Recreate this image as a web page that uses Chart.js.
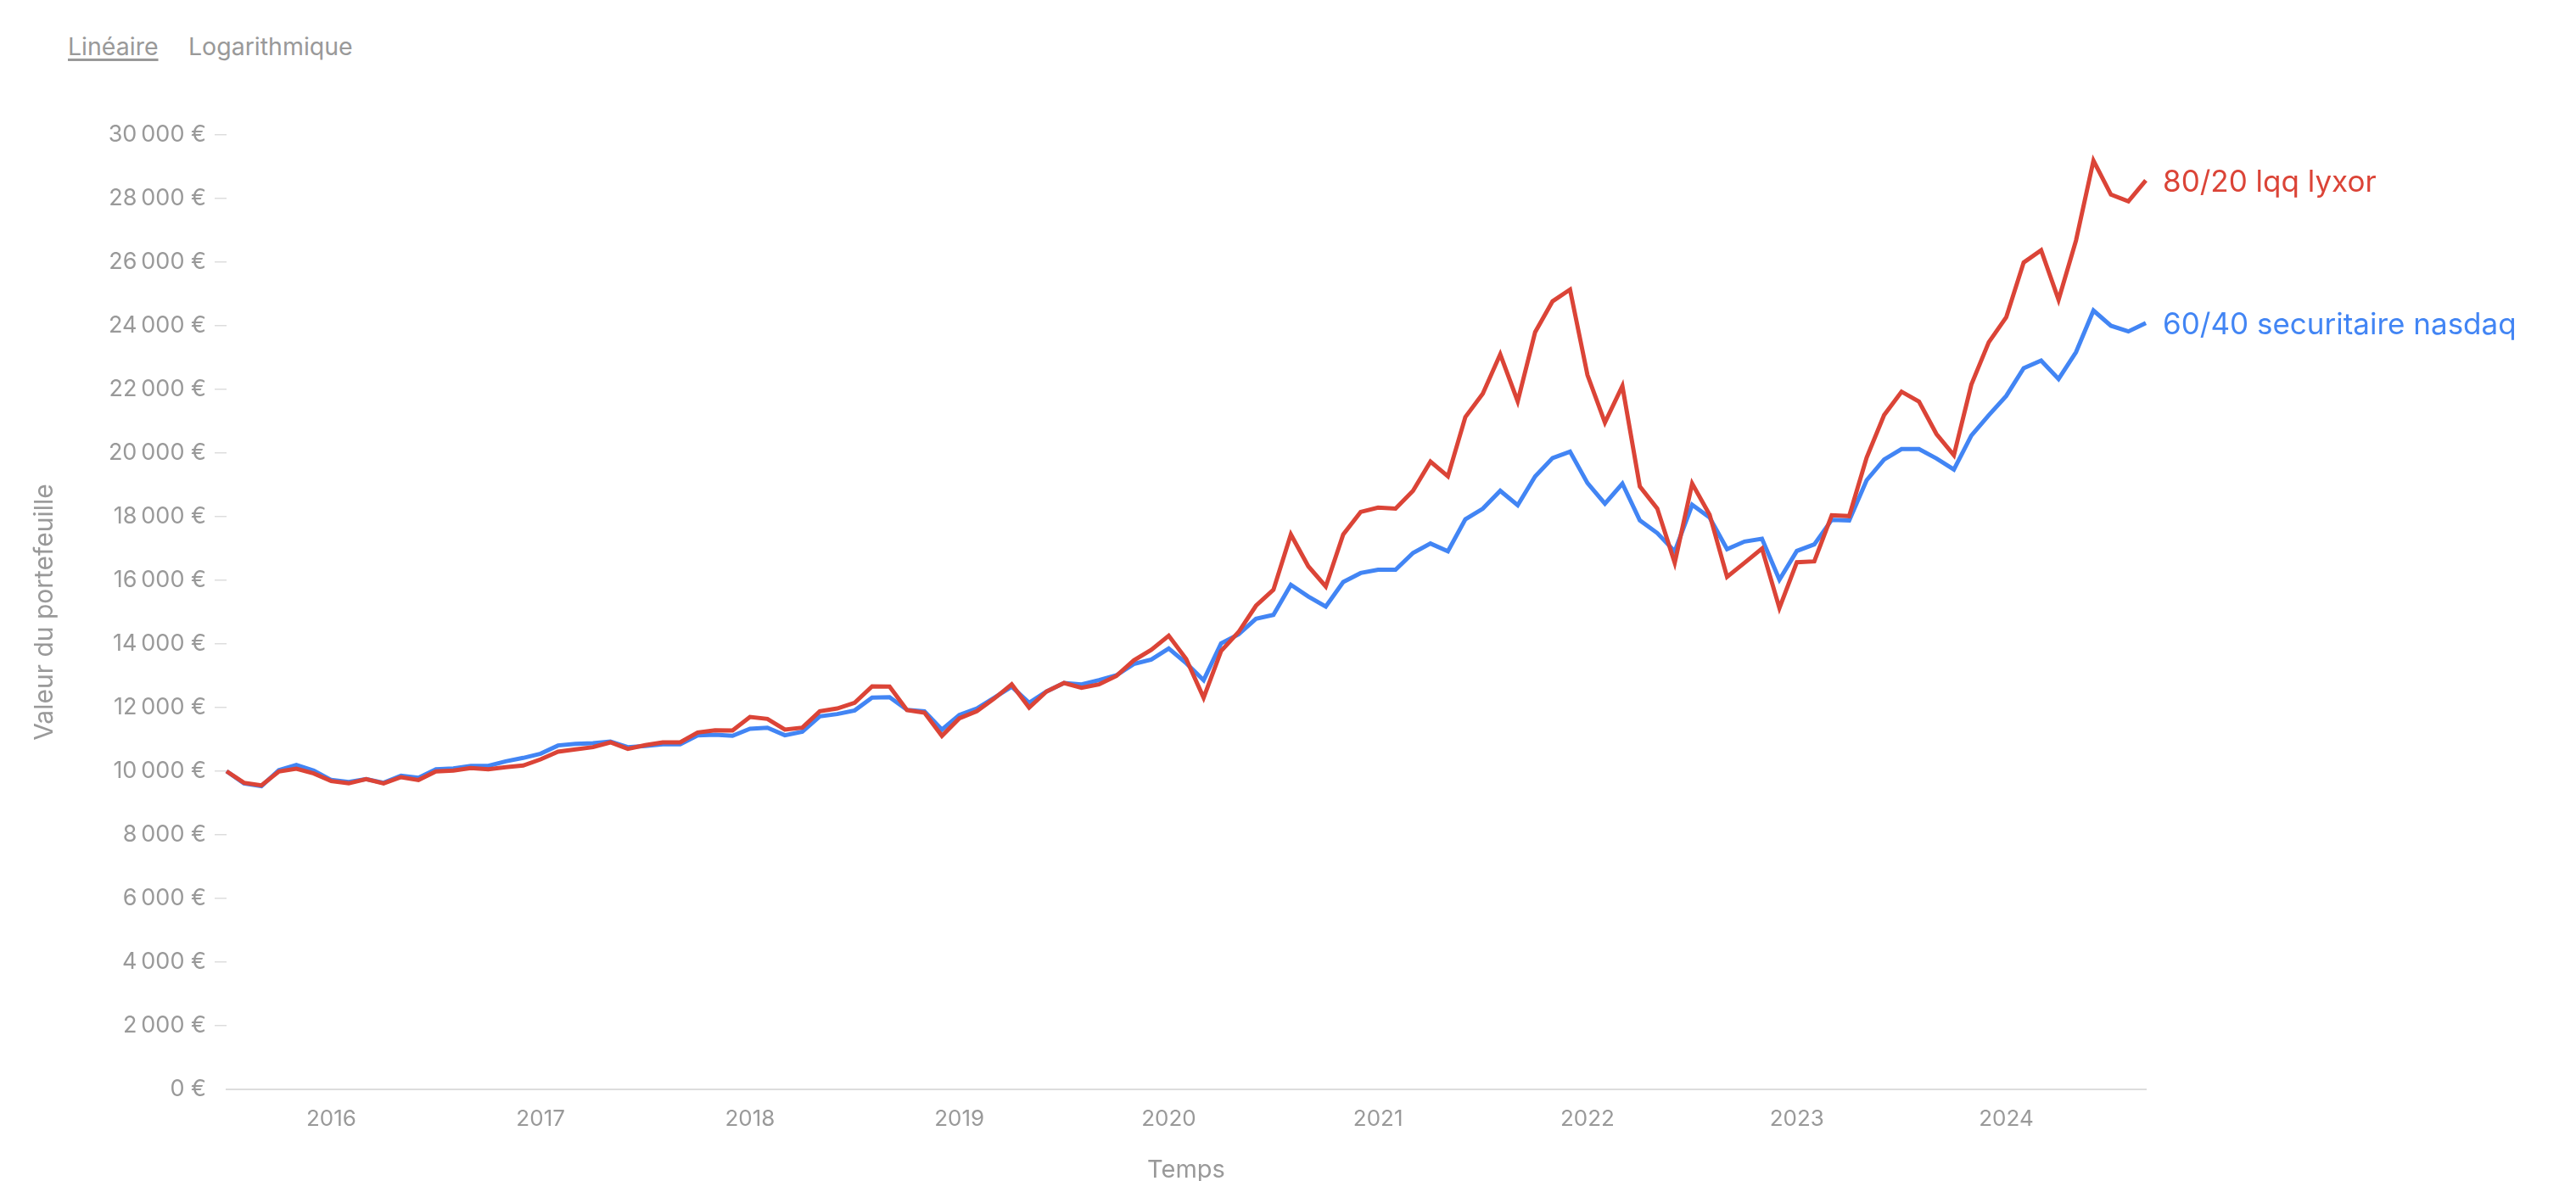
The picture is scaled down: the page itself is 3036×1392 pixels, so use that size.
<!DOCTYPE html>
<html lang="fr">
<head>
  <meta charset="UTF-8">
  <title>Valeur du portefeuille</title>
  <script src="https://cdn.jsdelivr.net/npm/chart.js"></script>
  <style>
    html, body { margin: 0; padding: 0; background: #fff; }
    body { width: 3036px; height: 1392px; position: relative; overflow: hidden; font-family: Inter, sans-serif; }
    .toggle { position: absolute; top: 37px; font-size: 28.5px; line-height: 36px; color: #999; }
    .toggle.active { text-decoration: underline; text-decoration-thickness: 3px; text-underline-offset: 4px; }
    #wrap { position: absolute; left: 0; top: 0; width: 3036px; height: 1392px; }
  </style>
</head>
<body>
  <span class="toggle active" style="left:80px">Linéaire</span>
  <span class="toggle" style="left:222px">Logarithmique</span>
  <div id="wrap"><canvas id="chart"></canvas></div>
  <script>
    // valeurs mensuelles, juillet 2015 -> septembre 2024
    const startYear = 2015;
    const startMonth = 7;

    const lqq = [
      10000, 9635, 9556, 9991, 10080, 9929, 9689, 9618, 9751, 9618,
      9813, 9724, 9991, 10018, 10098, 10062, 10124, 10178, 10373, 10613,
      10684, 10756, 10907, 10702, 10818, 10907, 10907, 11218, 11289, 11280,
      11707, 11644, 11307, 11369, 11884, 11973, 12151, 12667, 12658, 11920,
      11840, 11111, 11662, 11884, 12284, 12729, 12000, 12507, 12773, 12622,
      12729, 12996, 13484, 13813, 14258, 13529, 12311, 13778, 14373, 15200,
      15701, 17442, 16440, 15808, 17442, 18149, 18285, 18253, 18813, 19730,
      19267, 21133, 21869, 23104, 21627, 23800, 24771, 25139, 22451, 20960,
      22107, 18951, 18258, 16551, 19040, 18062, 16107, 16551, 16996, 15129,
      16569, 16596, 18044, 18018, 19858, 21191, 21929, 21618, 20600, 19929,
      22151, 23484, 24267, 25991, 26373, 24818, 26684, 29191, 28124, 27911,
      28569
    ];

    const nasdaq = [
      10000, 9618, 9529, 10036, 10196, 10018, 9724, 9662, 9751, 9635,
      9858, 9796, 10062, 10089, 10169, 10169, 10311, 10418, 10551, 10810,
      10862, 10880, 10933, 10756, 10791, 10844, 10844, 11129, 11147, 11111,
      11333, 11369, 11129, 11244, 11724, 11796, 11911, 12311, 12329, 11929,
      11884, 11307, 11769, 11973, 12311, 12658, 12151, 12507, 12773, 12729,
      12862, 13013, 13369, 13511, 13858, 13396, 12862, 14018, 14302, 14790,
      14912, 15861, 15491, 15173, 15947, 16229, 16333, 16333, 16861, 17157,
      16915, 17917, 18253, 18813, 18360, 19267, 19845, 20045, 19056, 18410,
      19040, 17884, 17484, 16907, 18373, 17973, 16978, 17218, 17307, 16018,
      16924, 17129, 17902, 17884, 19147, 19796, 20124, 20124, 19830, 19484,
      20551, 21191, 21795, 22667, 22907, 22329, 23173, 24480, 24000, 23822,
      24089
    ];

    const yearTicks = ['2016', '2017', '2018', '2019', '2020', '2021', '2022', '2023', '2024'];

    const months = [];
    for (let i = 0; i < lqq.length; i++) {
      const m = startMonth - 1 + i;
      const y = startYear + Math.floor(m / 12);
      months.push(y + '-' + String(m % 12 + 1).padStart(2, '0'));
    }

    function euros(v) {
      return String(v).replace(/\B(?=(\d{3})+(?!\d))/g, '\u202f') + ' €';
    }

    const grey = '#999999';
    const light = '#dddddd';

    const endLabels = {
      id: 'endLabels',
      afterDatasetsDraw(chart) {
        const ctx = chart.ctx;
        chart.data.datasets.forEach((ds, i) => {
          const meta = chart.getDatasetMeta(i);
          const pt = meta.data[meta.data.length - 1];
          ctx.save();
          ctx.font = '35px Inter';
          ctx.fillStyle = ds.borderColor;
          ctx.textBaseline = 'alphabetic';
          ctx.fillText(ds.label, pt.x + 20, pt.y + 13);
          ctx.restore();
        });
      }
    };

    Chart.defaults.font.family = 'Inter, sans-serif';
    Chart.defaults.color = grey;

    new Chart(document.getElementById('chart'), {
      type: 'line',
      data: {
        labels: months,
        datasets: [
          { label: '80/20 lqq lyxor', data: lqq, borderColor: '#DB4437', borderWidth: 5, pointRadius: 0, tension: 0 },
          { label: '60/40 securitaire nasdaq', data: nasdaq, borderColor: '#4285F4', borderWidth: 5, pointRadius: 0, tension: 0 }
        ]
      },
      options: {
        responsive: true,
        maintainAspectRatio: false,
        animation: false,
        layout: { padding: { top: 159, right: 507, bottom: 0, left: 0 } },
        plugins: { legend: { display: false }, tooltip: { enabled: false } },
        scales: {
          x: {
            afterFit: (s) => { s.height = 108; },
            border: { display: true, color: light, width: 2 },
            grid: { display: true, drawOnChartArea: false, drawTicks: false },
            ticks: {
              autoSkip: false,
              maxRotation: 0,
              padding: 20,
              font: { size: 26 },
              callback: function (value) {
                const lab = this.getLabelForValue(value);
                const yr = lab.slice(0, 4);
                return lab.endsWith('-01') && yearTicks.includes(yr) ? yr : '';
              }
            },
            title: { display: true, text: 'Temps', font: { size: 29 }, padding: { top: 0, bottom: -5 } }
          },
          y: {
            min: 0,
            max: 30000,
            afterFit: (s) => { s.width = 267; },
            border: { display: false },
            grid: {
              drawOnChartArea: false,
              drawTicks: true,
              tickLength: 14,
              lineWidth: 1.5,
              color: (c) => (c.tick && c.tick.value === 0 ? 'rgba(0,0,0,0)' : light)
            },
            ticks: { stepSize: 2000, padding: 10, font: { size: 27 }, callback: (v) => euros(v) },
            title: { display: true, text: 'Valeur du portefeuille', font: { size: 30 }, padding: { top: 35, bottom: 0 } }
          }
        }
      },
      plugins: [endLabels]
    });
  </script>
</body>
</html>
